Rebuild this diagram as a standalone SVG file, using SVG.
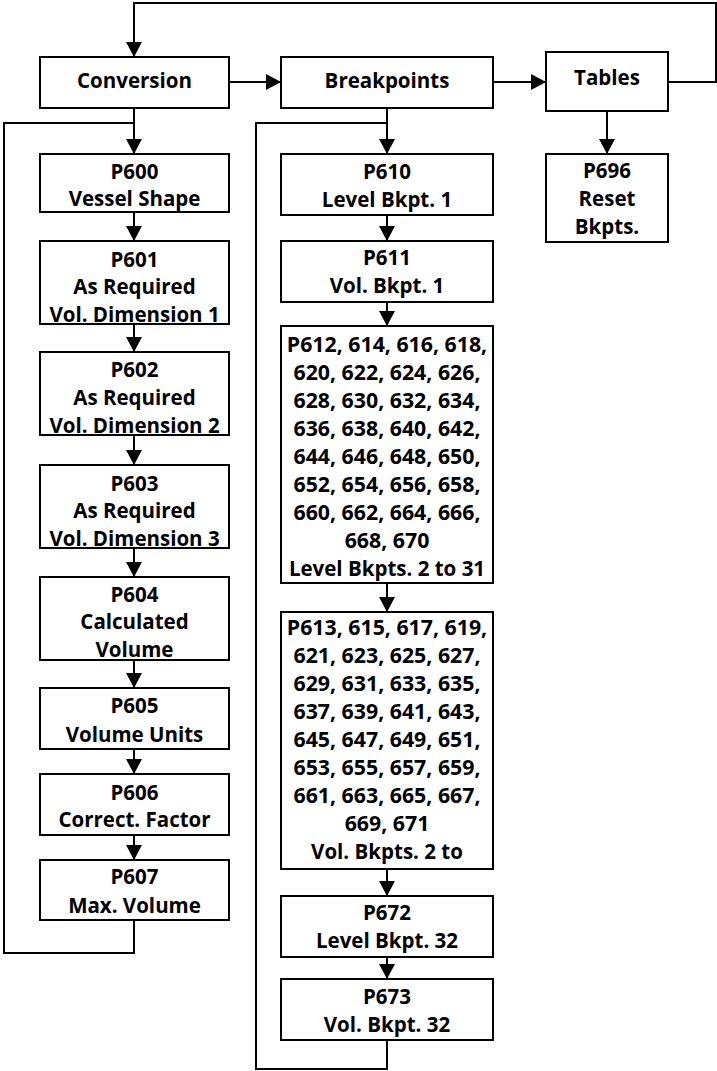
<svg xmlns="http://www.w3.org/2000/svg" width="717" height="1071" viewBox="0 0 717 1071">
<style>
  .box { fill: #ffffff; stroke: #000000; stroke-width: 2; }
  .t { font-family: "Open Sans", "Liberation Sans", sans-serif; font-weight: bold; font-size: 20.5px; fill: #000000; text-anchor: middle; }
  .n { font-size: 21.3px; }
  .c { fill: none; stroke: #000000; stroke-width: 2; }
</style>
<defs>
  <marker id="arr" markerUnits="userSpaceOnUse" markerWidth="16" markerHeight="16" refX="15" refY="8" orient="auto">
    <path d="M0,0 L15,8 L0,16 Z" fill="#000000"/>
  </marker>
</defs>
<rect width="717" height="1071" fill="#ffffff"/>

<g id="connectors">
  <path class="c" d="M668,82 H716 V3 H134 V57" marker-end="url(#arr)"/>
  <path class="c" d="M229,82 H281" marker-end="url(#arr)"/>
  <path class="c" d="M493,82 H546" marker-end="url(#arr)"/>
  <path class="c" d="M134,108 V154" marker-end="url(#arr)"/>
  <path class="c" d="M134,920 V953 H4 V123 H134"/>
  <path class="c" d="M387,108 V154" marker-end="url(#arr)"/>
  <path class="c" d="M387,1040 V1069 H256 V123 H387"/>
  <path class="c" d="M607,111 V154" marker-end="url(#arr)"/>
  <path class="c" d="M134,212 V241" marker-end="url(#arr)"/>
  <path class="c" d="M134,324 V352" marker-end="url(#arr)"/>
  <path class="c" d="M134,435 V465" marker-end="url(#arr)"/>
  <path class="c" d="M134,548 V577" marker-end="url(#arr)"/>
  <path class="c" d="M134,660 V688" marker-end="url(#arr)"/>
  <path class="c" d="M134,749 V774" marker-end="url(#arr)"/>
  <path class="c" d="M134,835 V860" marker-end="url(#arr)"/>
  <path class="c" d="M387,215 V241" marker-end="url(#arr)"/>
  <path class="c" d="M387,302 V326" marker-end="url(#arr)"/>
  <path class="c" d="M387,583 V612" marker-end="url(#arr)"/>
  <path class="c" d="M387,869 V896" marker-end="url(#arr)"/>
  <path class="c" d="M387,957 V979" marker-end="url(#arr)"/>
</g>

<g id="conversion">
  <rect class="box" x="40" y="57" width="189" height="51"/>
  <text class="t" x="134.5" y="88">Conversion</text>
</g>
<g id="breakpoints">
  <rect class="box" x="281" y="57" width="212" height="51"/>
  <text class="t" x="387" y="88">Breakpoints</text>
</g>
<g id="tables">
  <rect class="box" x="546" y="52" width="122" height="59"/>
  <text class="t" x="607" y="85">Tables</text>
</g>

<g id="p600">
  <rect class="box" x="40" y="154" width="189" height="58"/>
  <text class="t" x="134.5" y="179">P600</text>
  <text class="t" x="134.5" y="206">Vessel Shape</text>
</g>
<g id="p601">
  <rect class="box" x="40" y="241" width="189" height="83"/>
  <text class="t" x="134.5" y="267">P601</text>
  <text class="t" x="134.5" y="294">As Required</text>
  <text class="t" x="134.5" y="322">Vol. Dimension 1</text>
</g>
<g id="p602">
  <rect class="box" x="40" y="352" width="189" height="83"/>
  <text class="t" x="134.5" y="377">P602</text>
  <text class="t" x="134.5" y="405">As Required</text>
  <text class="t" x="134.5" y="433">Vol. Dimension 2</text>
</g>
<g id="p603">
  <rect class="box" x="40" y="465" width="189" height="83"/>
  <text class="t" x="134.5" y="491">P603</text>
  <text class="t" x="134.5" y="518">As Required</text>
  <text class="t" x="134.5" y="546">Vol. Dimension 3</text>
</g>
<g id="p604">
  <rect class="box" x="40" y="577" width="189" height="83"/>
  <text class="t" x="134.5" y="602">P604</text>
  <text class="t" x="134.5" y="629">Calculated</text>
  <text class="t" x="134.5" y="657">Volume</text>
</g>
<g id="p605">
  <rect class="box" x="40" y="688" width="189" height="61"/>
  <text class="t" x="134.5" y="713">P605</text>
  <text class="t" x="134.5" y="742">Volume Units</text>
</g>
<g id="p606">
  <rect class="box" x="40" y="774" width="189" height="61"/>
  <text class="t" x="134.5" y="800">P606</text>
  <text class="t" x="134.5" y="827">Correct. Factor</text>
</g>
<g id="p607">
  <rect class="box" x="40" y="860" width="189" height="60"/>
  <text class="t" x="134.5" y="884">P607</text>
  <text class="t" x="134.5" y="913">Max. Volume</text>
</g>

<g id="p610">
  <rect class="box" x="281" y="154" width="212" height="61"/>
  <text class="t" x="387" y="179">P610</text>
  <text class="t" x="387" y="207">Level Bkpt. 1</text>
</g>
<g id="p611">
  <rect class="box" x="281" y="241" width="212" height="61"/>
  <text class="t" x="387" y="265">P611</text>
  <text class="t" x="387" y="293">Vol. Bkpt. 1</text>
</g>
<g id="p612">
  <rect class="box" x="281" y="326" width="212" height="257"/>
  <text class="t n" x="387" y="352">P612, 614, 616, 618,</text>
  <text class="t n" x="387" y="380">620, 622, 624, 626,</text>
  <text class="t n" x="387" y="408">628, 630, 632, 634,</text>
  <text class="t n" x="387" y="436">636, 638, 640, 642,</text>
  <text class="t n" x="387" y="464">644, 646, 648, 650,</text>
  <text class="t n" x="387" y="492">652, 654, 656, 658,</text>
  <text class="t n" x="387" y="520">660, 662, 664, 666,</text>
  <text class="t n" x="387" y="548">668, 670</text>
  <text class="t" x="387" y="576">Level Bkpts. 2 to 31</text>
</g>
<g id="p613">
  <rect class="box" x="281" y="612" width="212" height="257"/>
  <text class="t n" x="387" y="635">P613, 615, 617, 619,</text>
  <text class="t n" x="387" y="663">621, 623, 625, 627,</text>
  <text class="t n" x="387" y="691">629, 631, 633, 635,</text>
  <text class="t n" x="387" y="719">637, 639, 641, 643,</text>
  <text class="t n" x="387" y="747">645, 647, 649, 651,</text>
  <text class="t n" x="387" y="775">653, 655, 657, 659,</text>
  <text class="t n" x="387" y="803">661, 663, 665, 667,</text>
  <text class="t n" x="387" y="831">669, 671</text>
  <text class="t" x="387" y="859">Vol. Bkpts. 2 to</text>
</g>
<g id="p672">
  <rect class="box" x="281" y="896" width="212" height="61"/>
  <text class="t" x="387" y="920">P672</text>
  <text class="t" x="387" y="948">Level Bkpt. 32</text>
</g>
<g id="p673">
  <rect class="box" x="281" y="979" width="212" height="61"/>
  <text class="t" x="387" y="1004">P673</text>
  <text class="t" x="387" y="1032">Vol. Bkpt. 32</text>
</g>
<g id="p696">
  <rect class="box" x="546" y="154" width="122" height="88"/>
  <text class="t" x="607" y="178">P696</text>
  <text class="t" x="607" y="206">Reset</text>
  <text class="t" x="607" y="234">Bkpts.</text>
</g>
</svg>
